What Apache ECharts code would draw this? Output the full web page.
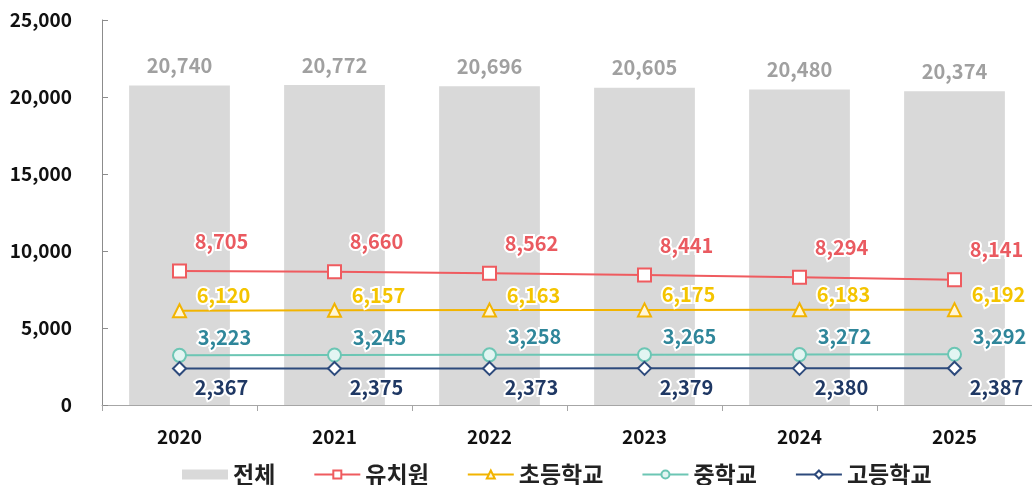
<!DOCTYPE html>
<html>
<head>
<meta charset="utf-8">
<script src="https://cdn.jsdelivr.net/npm/echarts@6/dist/echarts.min.js"></script>
<style>
    html, body { margin: 0; padding: 0; background: #fff; }
    #chart { width: 1032px; height: 485px; }
</style>
</head>
<body>
<div id="chart"></div>
<script>
var years = ["2020", "2021", "2022", "2023", "2024", "2025"];
var total = [20740, 20772, 20696, 20605, 20480, 20374];
var kinder = [8705, 8660, 8562, 8441, 8294, 8141];
var elem = [6120, 6157, 6163, 6175, 6183, 6192];
var middle = [3223, 3245, 3258, 3265, 3272, 3292];
var high = [2367, 2375, 2373, 2379, 2380, 2387];
var yTicks = [0, 5000, 10000, 15000, 20000, 25000];

var FONT = "'Noto Sans CJK KR', 'Noto Sans', sans-serif";

function fmt(v) {
    return v.toLocaleString("en-US");
}

function line_series(name, data, color, labelColor, symbol, fill, offset) {
    return {
        name: name,
        type: "line",
        data: data,
        symbol: symbol,
        symbolSize: 13,
        lineStyle: {color: color, width: 2},
        itemStyle: {color: fill, borderColor: color, borderWidth: 2},
        label: {
            show: true,
            position: "inside",
            offset: offset,
            color: labelColor,
            fontFamily: FONT,
            fontWeight: "bold",
            fontSize: 20,
            textBorderColor: "#fff",
            textBorderWidth: 4,
            formatter: function (p) { return fmt(p.value); }
        },
        z: 3
    };
}

var chart = echarts.init(document.getElementById("chart"));
chart.setOption({
    animation: false,
    grid: {left: 102, top: 20, width: 936, height: 385},
    legend: {
        left: 177,
        top: 458,
        itemGap: 38,
        itemWidth: 46,
        itemHeight: 10,
        textStyle: {fontFamily: FONT, fontSize: 23, color: "#222", fontWeight: "bold"},
        data: [
            {name: "전체", icon: "rect", itemStyle: {color: "#d9d9d9"}},
            "유치원", "초등학교", "중학교", "고등학교"
        ]
    },
    xAxis: {
        type: "category",
        data: years,
        axisLine: {lineStyle: {color: "#a6a6a6"}},
        axisTick: {show: true, length: 6, lineStyle: {color: "#a6a6a6"}},
        axisLabel: {margin: 22, color: "#111", fontFamily: FONT, fontWeight: "bold", fontSize: 19}
    },
    yAxis: {
        type: "value",
        min: yTicks[0],
        max: yTicks[yTicks.length - 1],
        interval: yTicks[1] - yTicks[0],
        splitLine: {show: false},
        axisLine: {show: true, lineStyle: {color: "#8c8c8c"}},
        axisTick: {show: true, inside: true, length: 6, lineStyle: {color: "#8c8c8c"}},
        axisLabel: {
            margin: 30, color: "#111", fontFamily: FONT, fontWeight: "bold", fontSize: 19,
            formatter: function (v) { return fmt(v); }
        }
    },
    series: [
        {
            name: "전체",
            type: "bar",
            data: total,
            barWidth: "65%",
            itemStyle: {color: "#d9d9d9"},
            label: {
                show: true,
                position: "top",
                distance: 10,
                color: "#a0a0a0",
                fontFamily: FONT,
                fontWeight: "bold",
                fontSize: 20,
                formatter: function (p) { return fmt(p.value); }
            },
            z: 1
        },
        line_series("유치원", kinder, "#ef5b5f", "#ea5a60", "rect", "#fff", [42, -30]),
        line_series("초등학교", elem, "#f2b400", "#f4c400", "triangle", "#fff6d9", [44, -15]),
        line_series("중학교", middle, "#6cc6b4", "#2f869a", "circle", "#e2f5f2", [45, -18]),
        line_series("고등학교", high, "#2d4a7c", "#1f3864", "diamond", "#fff", [42, 19])
    ]
});
</script>
</body>
</html>
